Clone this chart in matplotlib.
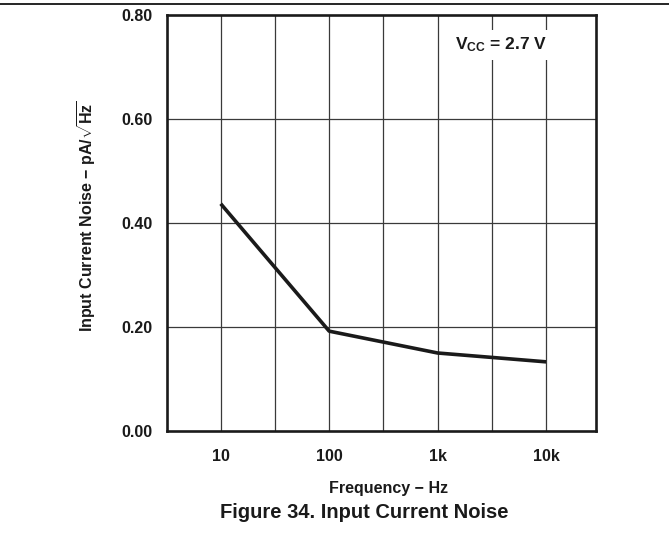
import matplotlib
matplotlib.use('Agg')
import matplotlib.pyplot as plt
from matplotlib.lines import Line2D
from matplotlib.ticker import FixedLocator

plt.rcParams['font.family'] = ['Liberation Sans', 'DejaVu Sans']
plt.rcParams['font.weight'] = 'bold'
plt.rcParams['mathtext.fontset'] = 'custom'
plt.rcParams['mathtext.rm'] = 'Liberation Sans:bold'
plt.rcParams['mathtext.bf'] = 'Liberation Sans:bold'
plt.rcParams['mathtext.it'] = 'Liberation Sans:bold'

# datos
freq = [10, 100, 1000, 10000]
noise = [0.437, 0.192, 0.150, 0.133]
x_ticks = [10, 100, 1000, 10000]
x_tick_labels = ['10', '100', '1k', '10k']
y_ticks = [0.0, 0.2, 0.4, 0.6, 0.8]
y_tick_labels = ['0.00', '0.20', '0.40', '0.60', '0.80']

W, H = 669, 537
fig = plt.figure(figsize=(W / 100, H / 100), dpi=100)
ax = fig.add_axes([166.5 / W, 1 - 431 / H, (596 - 166.5) / W, 416 / H])

# grilla: cada media decada en x, cada 0.2 en y
x_grid = [10 ** (k / 2) for k in range(2, 9)]
for xv in x_grid:
    ax.axvline(xv, color='#3a3a3a', lw=0.9, zorder=1)
for yv in [0.2, 0.4, 0.6]:
    ax.axhline(yv, color='#3a3a3a', lw=0.9, zorder=1)

ax.plot(freq, noise, color='#1a1a1a', lw=2.6, solid_capstyle='butt', zorder=3)

ax.set_xscale('log')
ax.set_xlim(10 ** 0.5, 10 ** 4.46)
ax.set_ylim(0, 0.8)
ax.xaxis.set_major_locator(FixedLocator(x_ticks))
ax.xaxis.set_minor_locator(FixedLocator([]))
ax.set_xticklabels(x_tick_labels)
ax.set_yticks(y_ticks)
ax.set_yticklabels(y_tick_labels)
ax.tick_params(axis='both', length=0, labelsize=11.5, colors='#1a1a1a')
ax.tick_params(axis='x', pad=13)
ax.tick_params(axis='y', pad=10)

for s in ax.spines.values():
    s.set_linewidth(1.9)
    s.set_color('#1a1a1a')

fig.text(501 / W, 1 - 45 / H, r'V$_{\mathregular{CC}}$ = 2.7 V', fontsize=12.5,
         ha='center', va='center', color='#1a1a1a', zorder=4,
         bbox=dict(facecolor='white', edgecolor='none', pad=4))

fig.text(389 / W, 1 - 489 / H, 'Frequency \u2212 Hz', fontsize=11.5,
         ha='center', va='center', color='#1a1a1a')
fig.text(87 / W, 1 - 216.5 / H,
         'Input Current Noise \u2212 pA/$\\sqrt{\\mathregular{Hz}}$',
         rotation=90, fontsize=11.5, ha='center', va='center', color='#1a1a1a')
fig.text(364.5 / W, 1 - 513 / H, 'Figure 34. Input Current Noise',
         fontsize=14.5, ha='center', va='center', color='#1a1a1a')

# linea de encabezado de pagina
fig.add_artist(Line2D([0, 1], [1 - 4 / H, 1 - 4 / H], color='black', lw=1.2))

fig.savefig('out.png', dpi=100)
